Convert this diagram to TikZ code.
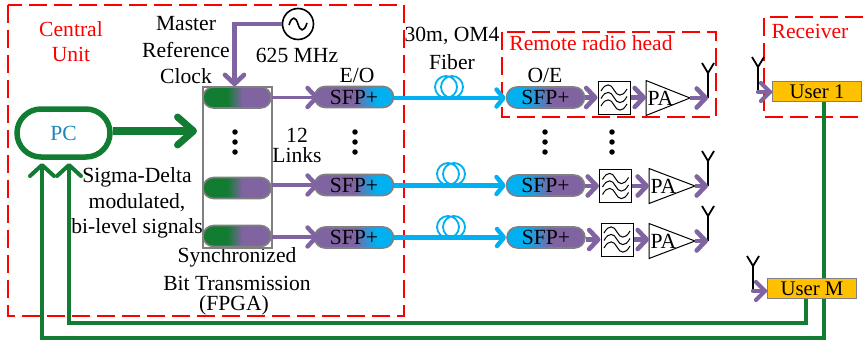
\documentclass[tikz,border=0pt]{standalone}
\usepackage{fontspec}
\setmainfont{Liberation Serif}
\usetikzlibrary{arrows.meta,shapes.misc}
\definecolor{gr}{HTML}{127D32}
\definecolor{pu}{HTML}{8064A2}
\definecolor{bl}{HTML}{00B0F0}
\definecolor{pcb}{HTML}{1B87B8}
\definecolor{us}{HTML}{FFC000}
\pgfdeclarehorizontalshading{gp}{100bp}{color(0bp)=(gr);color(25bp)=(gr);color(43bp)=(gr);color(54bp)=(pu);color(75bp)=(pu);color(100bp)=(pu)}
\pgfdeclarehorizontalshading{pb}{100bp}{color(0bp)=(pu);color(25bp)=(pu);color(50bp)=(pu);color(64bp)=(bl);color(75bp)=(bl);color(100bp)=(bl)}
\pgfdeclarehorizontalshading{bp}{100bp}{color(0bp)=(bl);color(25bp)=(bl);color(36bp)=(bl);color(54bp)=(pu);color(75bp)=(pu);color(100bp)=(pu)}
\tikzset{
 x=1pt,y=-1pt,
 txt/.style={font=\fontsize{21.6}{22}\selectfont,inner sep=0pt,text=black},
 redtxt/.style={txt,text=red},
 zone/.style={draw=red,line width=1.8pt,dash pattern=on 18pt off 7pt},
 pill/.style={rounded rectangle,draw=black!50,line width=1.6pt,minimum width=#1,inner sep=0pt,txt},
 fpgapill/.style={pill=68pt,minimum height=21pt,shading=gp},
 sfpl/.style={pill=79pt,minimum height=21pt,shading=pb},
 sfpr/.style={pill=78pt,minimum height=21pt,shading=bp},
 pa/.style={-{Straight Barb[length=9pt,width=19pt,line width=4.6pt,round]},draw=pu,line width=4.6pt},
 pabar/.style={draw=pu,line width=4.2pt,line cap=round,line join=round},
 pathin/.style={-{Straight Barb[length=9pt,width=19pt,line width=4.4pt,round]},draw=pu,line width=3.6pt,shorten >=-5pt},
 gline/.style={-{Straight Barb[length=11pt,width=24pt,line width=4pt,round]},draw=gr,line width=4pt},
 fib/.style={-{Straight Barb[length=7pt,width=17pt,line width=4.4pt,round]},draw=bl,line width=4.4pt},
 coil/.style={draw=bl,line width=1.8pt},
 ant/.style={draw=black,line width=1.8pt},
 usr/.style={draw=black!50,fill=us,line width=1.6pt,minimum width=89pt,minimum height=20pt,inner sep=0pt,txt,font=\fontsize{20.8}{22}\selectfont},
 filt/.style={draw=black,fill=white,line width=1pt,minimum width=32pt,minimum height=33pt,inner sep=0pt},
 dotn/.style={circle,fill=black,inner sep=0pt,minimum size=5.5pt},
}
\newcommand{\waves}[2]{%
 \foreach \dy in {-7.5,0,7.5}{%
  \draw[line width=1pt] ({#1-13},{#2+\dy+1}) .. controls ({#1-8},{#2+\dy-8}) and ({#1-3},{#2+\dy-6}) .. ({#1},{#2+\dy}) .. controls ({#1+3},{#2+\dy+6}) and ({#1+8},{#2+\dy+8}) .. ({#1+13},{#2+\dy-1});}}
\newcommand{\antenna}[3]{%
 \coordinate (#1) at (#2,#3);
 \coordinate (#1t) at (#2,{#3-25});
 \draw[ant] (#1) -- (#1t) -- ({#2-6},{#3-35}) (#1t) -- ({#2+6},{#3-35});}
\newcommand{\coilpic}[2]{%
 \draw[coil] ({#1-3},#2) circle (11pt) ({#1+3},#2) circle (11pt);}
\begin{document}
\begin{tikzpicture}
\useasboundingbox (0,0) rectangle (863,340);
\draw[zone] (8,5) rectangle (404,316);
\draw[zone] (502,32) rectangle (716,117);
\draw[zone] (863,17) -- (764,17) -- (764,117) -- (863,117);
% text
\node[redtxt] (cu1) at (71,29) {Central};
\node[redtxt] (cu2) at (71,54) {Unit};
\node[redtxt] (rrh) at (591,43) {Remote radio head};
\node[redtxt] (rc) at (810,31) {Receiver};
\node[txt] (m1) at (186,24) {Master};
\node[txt] (m2) at (186,50) {Reference};
\node[txt] (m3) at (186,76) {Clock};
\node[txt] (mhz) at (297,55) {625 MHz};
\node[txt] (eo) at (357,75) {E/O};
\node[txt] (oe) at (545,75) {O/E};
\node[txt] (l1) at (297,135) {12};
\node[txt] (l2) at (297,155) {Links};
\node[txt] (s1) at (137,177) {Sigma-Delta};
\node[txt] (s2) at (137,203) {modulated,};
\node[txt] (s3) at (137,228) {bi-level signals};
\node[txt] (b1) at (237,257) {Synchronized};
\node[txt] (b2) at (237,283) {Bit Transmission};
\node[txt] (b3) at (234,305) {(FPGA)};
\node[txt] (f1) at (452,36) {30m, OM4};
\node[txt] (f2) at (452,62) {Fiber};
% PC and FPGA
\node[draw=black!50,line width=2pt,minimum width=69pt,minimum height=161pt,inner sep=0pt] (fpga) at (237.5,167) {};
\node[rounded rectangle,draw=gr,line width=5.5pt,minimum width=93pt,minimum height=48pt,inner sep=0pt,txt,text=pcb] (pc) at (63.5,133) {PC};
\draw[-{Straight Barb[length=16pt,width=28pt,line width=7pt,round]},draw=gr,line width=7.5pt] (pc.east|-0,131) -- (197,131);
\node[fpgapill] (p1) at (237,97.5) {};
\node[fpgapill] (p2) at (237,188) {};
\node[fpgapill] (p3) at (237,236) {};
\node[sfpl] (l1s) at (354,97) {SFP+};
\node[sfpl] (l2s) at (354,185) {SFP+};
\node[sfpl] (l3s) at (354,237.5) {SFP+};
\node[sfpr] (r1s) at (545.5,97.5) {SFP+};
\node[sfpr] (r2s) at (545.5,185.5) {SFP+};
\node[sfpr] (r3s) at (546,237.5) {SFP+};
% clock
\node[circle,draw=black,line width=1.6pt,fill=white,minimum size=31pt,inner sep=0pt] (osc) at (298,24) {};
\draw[line width=1.6pt] (289,25) .. controls (292,15) and (296,17) .. (298,24) .. controls (300,31) and (304,33) .. (307,23);
\draw[pa] (osc.west) -| (p1.north-|234.5,0);
% links
\foreach \i/\y in {1/97.5,2/185,3/237}{
 \draw[pathin] (p\i.east|-0,\y) -- (l\i s.west|-0,\y);
}
\foreach \i/\y in {1/98,2/185.5,3/237.5}{
 \draw[fib] (l\i s.east|-0,\y) -- (r\i s.west|-0,\y);
}
\coilpic{449}{87}
\coilpic{451}{174}
\coilpic{451}{227}
% filters, PA, antenna
\foreach \i/\fx/\fy/\px/\pt/\sy in {1/614/97.5/646/690/98,2/615.5/186/649/695/186,3/617/239.5/649/695/241}{
 \node[filt] (fl\i) at (\fx,\fy) {};
 \waves{\fx}{\fy}
 \coordinate (pa\i) at (\px,\fy);
 \draw[line width=1pt,fill=white] (\px,{\sy-17.5}) -- (\pt,\sy) -- (\px,{\sy+17.5}) -- cycle;
 \coordinate (pt\i) at (\pt,\sy);
 \node[txt,anchor=west] (pat\i) at ({\px+1.5},\sy) {PA};
 \draw[pa] (r\i s.east|-0,\fy) -- (fl\i.west);
 \draw[pa] (fl\i.east) -- (pa\i);
 \antenna{an\i}{708}{\sy}
 \draw[pa] (pt\i) -- (an\i);
}
% users
\node[usr] (u1) at (817,91.5) {User 1};
\node[usr] (um) at (812,288.5) {User M};
\draw[draw=gr,line width=4pt] (u1.south-|824,0) -- (824,278);
\draw[gline] (um.south-|824,0) -- (824,338) -- (42,338) -- (42,163);
\draw[gline] (um.south-|806,0) -- (806,323) -- (69,323) -- (69,163);
\antenna{ra}{758}{92}
\antenna{rb}{753}{291}
\coordinate (rain) at (770,92);
\coordinate (rbin) at (765,291);
\coordinate (rau) at (761,83);
\coordinate (rad) at (761,101);
\coordinate (rbu) at (756,282);
\coordinate (rbd) at (756,300);
\draw[pabar] (ra) -- (rain);
\draw[pabar] (rau) -- (rain) -- (rad);
\draw[pabar] (rb) -- (rbin);
\draw[pabar] (rbu) -- (rbin) -- (rbd);
% dots
\foreach \n/\x in {a/235,b/355,c/545,d/612}{
 \foreach \k/\y in {1/132,2/142,3/152}{
  \node[dotn] (dot\n\k) at (\x,\y) {};
 }
}
\end{tikzpicture}
\end{document}
